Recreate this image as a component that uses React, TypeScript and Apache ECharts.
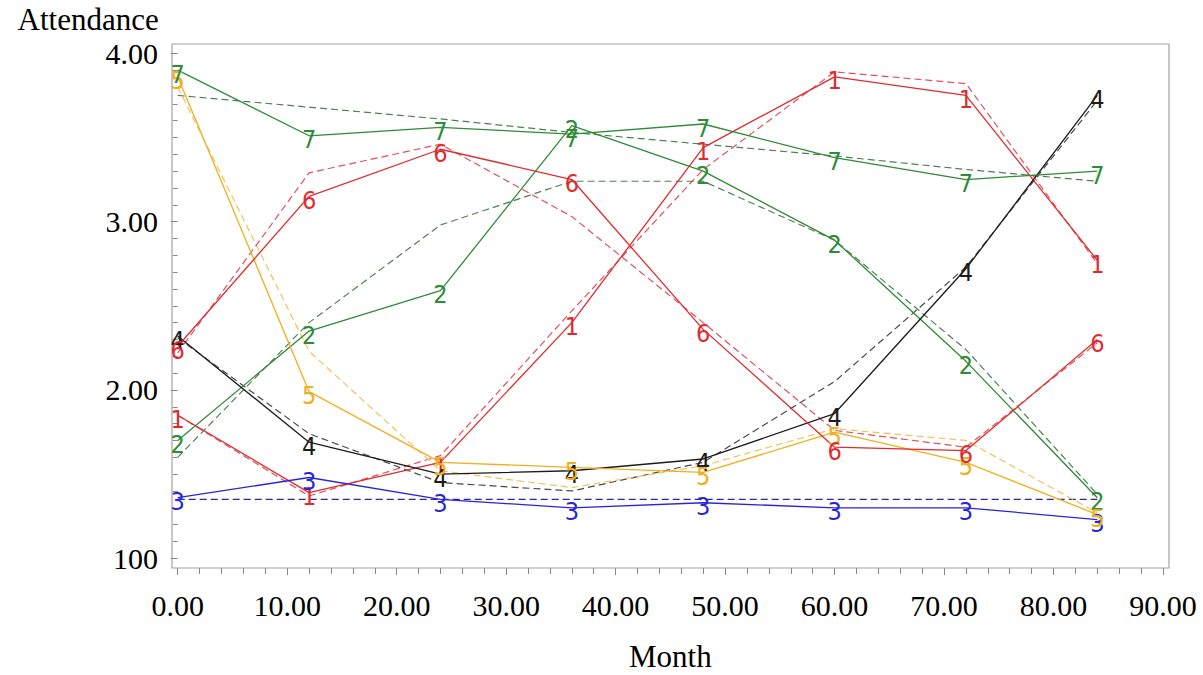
import React, { useEffect, useRef } from "react";
import * as echarts from "echarts";

// Month (x) values of the measurements
const months = [0, 12, 24, 36, 48, 60, 72, 84];

// Group labels (used as the plotted marker characters)
const groups = ["1", "2", "3", "4", "5", "6", "7"];

// Observed attendance per group (solid lines)
const observed1 = [1.85, 1.39, 1.57, 2.4, 3.44, 3.86, 3.75, 2.77];
const observed2 = [1.7, 2.35, 2.59, 3.57, 3.3, 2.89, 2.17, 1.36];
const observed3 = [1.36, 1.48, 1.35, 1.3, 1.33, 1.3, 1.3, 1.23];
const observed4 = [2.32, 1.69, 1.5, 1.52, 1.59, 1.86, 2.72, 3.75];
const observed5 = [3.86, 1.99, 1.57, 1.54, 1.51, 1.75, 1.57, 1.26];
const observed6 = [2.26, 3.15, 3.43, 3.25, 2.36, 1.66, 1.64, 2.3];
const observed7 = [3.9, 3.51, 3.56, 3.52, 3.58, 3.38, 3.25, 3.3];

// Fitted attendance per group (dashed lines)
const fitted1 = [1.85, 1.37, 1.61, 2.47, 3.31, 3.89, 3.82, 2.75];
const fitted2 = [1.6, 2.4, 2.98, 3.24, 3.24, 2.89, 2.24, 1.38];
const fitted3 = [1.35, 1.35, 1.35, 1.35, 1.35, 1.35, 1.35, 1.35];
const fitted4 = [2.31, 1.74, 1.45, 1.4, 1.57, 2.05, 2.73, 3.72];
const fitted5 = [3.8, 2.23, 1.52, 1.42, 1.55, 1.77, 1.7, 1.27];
const fitted6 = [2.22, 3.29, 3.46, 3.03, 2.4, 1.76, 1.66, 2.28];
const fitted7 = [3.75, 3.68, 3.61, 3.53, 3.46, 3.39, 3.31, 3.24];

// Axis tick labels
const xTickValues = [0, 10, 20, 30, 40, 50, 60, 70, 80, 90];
const xTickLabels = ["0.00", "10.00", "20.00", "30.00", "40.00", "50.00", "60.00", "70.00", "80.00", "90.00"];
const yTickValues = [1, 2, 3, 4];
const yTickLabels = ["100", "2.00", "3.00", "4.00"];

const observed = [observed1, observed2, observed3, observed4, observed5, observed6, observed7];
const fitted = [fitted1, fitted2, fitted3, fitted4, fitted5, fitted6, fitted7];

const solidColors = ["#e22a2e", "#2e8b37", "#2626d8", "#1c1c1c", "#f0b01e", "#e22a2e", "#2e8b37"];
const dashColors = ["#e2515c", "#4f7f52", "#2a2a96", "#4a4a4a", "#f1c35a", "#e2515c", "#4f7f52"];

const SERIF = "'Liberation Serif', 'Times New Roman', serif";
const MARK = "'Liberation Sans Narrow', 'DejaVu Sans Condensed', 'Liberation Sans', sans-serif";

export default function App() {
  const ref = useRef<HTMLDivElement>(null);

  useEffect(() => {
    if (!ref.current) return;
    const chart = echarts.init(ref.current, undefined, { renderer: "svg" });

    const series: any[] = [];
    groups.forEach((g, i) => {
      series.push({
        type: "line",
        name: "fit " + g,
        data: months.map((m, j) => [m, fitted[i][j]]),
        symbol: "none",
        lineStyle: { color: dashColors[i], width: 1.2, type: [7, 4] },
        itemStyle: { color: dashColors[i] },
        clip: false,
        z: 2,
      });
    });
    groups.forEach((g, i) => {
      series.push({
        type: "line",
        name: "obs " + g,
        data: months.map((m, j) => [m, observed[i][j]]),
        symbol: "circle",
        symbolSize: 1,
        showSymbol: true,
        itemStyle: { color: "rgba(0,0,0,0)", borderWidth: 0 },
        lineStyle: { color: solidColors[i], width: 1.3 },
        label: {
          show: true,
          formatter: g,
          position: "inside",
          offset: [0, 4],
          color: solidColors[i],
          fontFamily: MARK,
          fontSize: 25,
        },
        clip: false,
        z: 3,
      });
    });

    chart.setOption({
      animation: false,
      backgroundColor: "#ffffff",
      grid: { left: 177.7, right: 40, top: 53.3, bottom: 116.7, containLabel: false, outerBoundsMode: "none" },
      xAxis: {
        type: "value",
        min: 0,
        max: 90,
        interval: 10,
        offset: 9.7,
        name: "Month",
        nameLocation: "middle",
        nameGap: 76,
        nameTextStyle: { fontFamily: SERIF, fontSize: 31, lineHeight: 25, color: "#000" },
        axisLine: { show: false },
        axisTick: { show: true, length: 7, lineStyle: { color: "#888" } },
        minorTick: { show: true, splitNumber: 5, length: 6, lineStyle: { color: "#888" } },
        splitLine: { show: false },
        axisLabel: {
          fontFamily: SERIF,
          fontSize: 30,
          color: "#000",
          margin: 22,
          formatter: (v: number) => {
            const k = xTickValues.indexOf(v);
            return k >= 0 ? xTickLabels[k] : "";
          },
        },
      },
      yAxis: {
        type: "value",
        min: 1,
        max: 4,
        interval: 1,
        offset: 5.7,
        name: "Attendance",
        nameLocation: "end",
        nameGap: 18,
        nameTextStyle: { fontFamily: SERIF, fontSize: 31, color: "#000", align: "right", padding: [0, 19, 0, 0] },
        axisLine: { show: false },
        axisTick: { show: true, length: 7, lineStyle: { color: "#888" } },
        minorTick: { show: true, splitNumber: 10, length: 5, lineStyle: { color: "#888" } },
        splitLine: { show: false },
        axisLabel: {
          fontFamily: SERIF,
          fontSize: 30,
          color: "#000",
          margin: 14,
          formatter: (v: number) => {
            const k = yTickValues.indexOf(v);
            return k >= 0 ? yTickLabels[k] : "";
          },
        },
      },
      graphic: [
        {
          type: "rect",
          shape: { x: 172, y: 44, width: 997, height: 524 },
          style: { fill: "none", stroke: "#a3a3a3", lineWidth: 1.2 },
          silent: true,
          z: 0,
        },
      ],
      series,
    });

    return () => chart.dispose();
  }, []);

  return (
    <div
      ref={ref}
      style={{ position: "fixed", left: 0, top: 0, width: 1203, height: 675, background: "#fff" }}
    />
  );
}
